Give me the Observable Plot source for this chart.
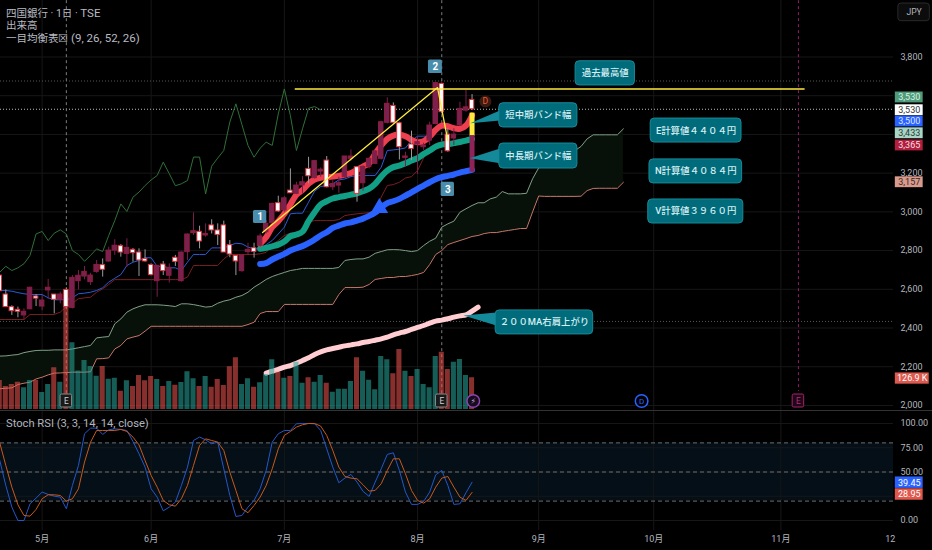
<!DOCTYPE html>
<html><head><meta charset="utf-8">
<script src="https://cdn.jsdelivr.net/npm/d3@7"></script>
<script src="https://cdn.jsdelivr.net/npm/@observablehq/plot@0.6"></script>
<style>
html,body{margin:0;padding:0;background:#000;overflow:hidden}
#wrap{position:relative;width:932px;height:550px;background:#000;font-family:Roboto,"Noto Sans CJK JP",sans-serif;color:#b2b5be}
#wrap svg{position:absolute;left:0}
.legend{position:absolute;left:6px;top:7px;font-size:10.5px;line-height:12px;color:#b8bbc2;z-index:5}
.legend span{font-size:11.5px}
.stoch{position:absolute;left:6px;top:418px;font-size:11.2px;line-height:12px;color:#b2b5be;z-index:5}
.sep{position:absolute;left:0;top:410px;width:932px;height:1px;background:#333;z-index:4}
</style></head><body>
<div id="wrap">
<div class="legend">四国銀行 · 1日 · <span>TSE</span><br>出来高<br>一目均衡表☒ <span>(9, 26, 52, 26)</span></div>
<div class="stoch">Stoch RSI (3, 3, 14, 14, close)</div>
<div class="sep"></div>
</div>
<script>
// Bars are addressed by trading-bar index; index 6 is the first bar of May.
const firstBar = -1;
const open = [2671,2573,2508,2494,2465,2497,2563,2511,2594,2573,2546,2597,2504,2642,2666,2637,2690,2725,2744,2800,2823,2783,2804,2790,2757,2726,2642,2728,2670,2763,2642,2792,2890,2897,2878,2930,2904,2930,2828,2773,2694,2792,2812,2825,2895,2941,3045,3007,3110,3093,3136,3222,3174,3208,3265,3127,3136,3179,3274,3231,3148,3231,3248,3274,3460,3547,3458,3279,3348,3348,3334,3368,3454,3661,3399,3379,3446,3523,3578];
const close = [2590,2508,2487,2484,2484,2608,2552,2542,2608,2546,2573,2508,2659,2670,2690,2671,2726,2701,2800,2825,2790,2814,2787,2749,2744,2673,2721,2694,2711,2742,2790,2883,2900,2847,2886,2904,2881,2790,2780,2744,2775,2804,2793,2873,2938,3041,3002,3070,3096,3136,3153,3184,3262,3218,3127,3144,3148,3286,3286,3093,3232,3274,3312,3463,3558,3460,3334,3286,3325,3360,3343,3446,3665,3515,3313,3399,3532,3540,3530];
const high = [2671,2597,2515,2508,2499,2611,2573,2568,2651,2573,2585,2608,2671,2697,2718,2683,2749,2757,2818,2856,2831,2861,2811,2809,2804,2731,2721,2744,2731,2775,2793,2886,2995,2926,2938,2959,2938,2952,2852,2773,2775,2838,2838,2886,2955,3045,3081,3079,3222,3153,3182,3282,3265,3227,3286,3162,3179,3286,3320,3231,3239,3279,3317,3468,3589,3563,3463,3308,3417,3386,3355,3463,3665,3665,3429,3429,3566,3627,3606];
const low = [2590,2508,2465,2453,2442,2494,2511,2490,2547,2473,2525,2499,2499,2597,2649,2620,2683,2663,2740,2775,2766,2714,2740,2666,2740,2670,2559,2671,2632,2718,2637,2749,2878,2809,2869,2886,2826,2790,2763,2671,2688,2775,2761,2818,2886,2938,2998,2998,3096,3089,3093,3145,3170,3179,3124,3110,3096,3175,3262,3050,3107,3222,3244,3268,3454,3454,3268,3231,3265,3193,3317,3343,3450,3506,3308,3343,3441,3515,3523];
const volumeK = [116,92,100,109,87,116,116,68,100,167,109,409,267,154,196,172,133,172,121,125,73,115,92,136,115,132,120,92,112,97,108,151,123,92,132,89,120,96,171,207,100,123,89,107,140,199,149,125,132,189,105,127,109,136,105,69,81,81,112,207,153,117,79,212,199,143,240,153,132,160,100,87,212,229,160,189,200,136,127];
const tenkan = [2594,2594,2590,2583,2577,2573,2573,2573,2556,2546,2546,2546,2556,2577,2580,2585,2594,2608,2637,2657,2676,2723,2740,2749,2763,2763,2718,2718,2711,2711,2697,2740,2780,2780,2780,2814,2814,2814,2826,2838,2835,2818,2809,2809,2831,2852,2886,2921,2990,2993,2993,3050,3107,3131,3136,3145,3165,3170,3182,3188,3188,3188,3188,3231,3317,3320,3324,3330,3368,3391,3391,3391,3437,3437,3437,3437,3437,3441,3500];
const kijun = [2444,2444,2444,2444,2444,2470,2470,2470,2470,2470,2482,2511,2528,2551,2556,2559,2585,2602,2625,2650,2650,2650,2650,2650,2650,2650,2650,2650,2650,2650,2650,2663,2723,2723,2723,2723,2723,2757,2780,2780,2780,2780,2780,2783,2791,2831,2852,2878,2890,2890,2890,2947,2955,2955,2955,2955,2960,2981,2986,2990,2993,2996,3010,3076,3136,3141,3153,3175,3182,3213,3279,3320,3351,3360,3365,3365,3365,3365,3365];
const lagging = [2688,2719,2697,2711,2732,2775,2886,2899,2852,2890,2907,2886,2800,2780,2745,2775,2809,2795,2878,2955,3041,3002,3076,3102,3136,3165,3188,3257,3197,3135,3145,3162,3283,3283,3093,3236,3278,3317,3464,3558,3450,3343,3282,3329,3360,3343,3506,3635,3497,3317,3429,3535,3544,3527];
const spanA = [2255,2256,2260,2263,2273,2279,2284,2285,2285,2287,2287,2287,2292,2298,2304,2310,2349,2353,2356,2422,2447,2482,2499,2511,2520,2520,2520,2518,2515,2511,2525,2525,2521,2515,2508,2511,2528,2539,2546,2559,2568,2585,2611,2630,2651,2666,2677,2687,2697,2702,2708,2708,2708,2708,2708,2708,2713,2749,2754,2757,2757,2766,2786,2795,2804,2805,2804,2800,2795,2800,2826,2848,2864,2921,2938,2952,2998,3016,3033,3047,3047,3067,3076,3105,3093,3093,3093,3096,3171,3227,3240,3240,3252,3269,3291,3317,3338,3377,3398,3398,3398,3398,3398,3429];
const spanB = [2086,2089,2091,2108,2115,2120,2137,2146,2158,2167,2168,2170,2172,2172,2172,2174,2241,2242,2246,2292,2310,2344,2353,2361,2384,2409,2409,2409,2409,2409,2409,2409,2409,2409,2409,2409,2409,2409,2409,2409,2409,2418,2430,2475,2485,2485,2485,2522,2522,2522,2522,2522,2522,2522,2522,2522,2573,2609,2609,2609,2611,2625,2651,2656,2661,2661,2666,2666,2671,2677,2687,2728,2780,2800,2831,2842,2852,2862,2873,2878,2888,2893,2893,2899,2904,2909,2914,2914,3000,3082,3080,3080,3080,3080,3080,3080,3081,3110,3121,3122,3122,3122,3122,3153];
const stochK = [61.9,36.1,13.8,0,0,17.2,23.1,29.3,26.9,25.1,24.1,12.1,36.1,56.8,89.4,95.2,95.2,88.7,93.5,94.5,93.9,92.8,81.5,68.8,55,32.7,24.1,10,13.8,18.9,36.1,55,82.5,86,83.2,79.1,80.8,53.3,25.8,4.2,5.2,13.8,20.7,32.7,51.6,80.8,89.4,92.8,92.8,99.7,100,100,99.7,92.8,73.9,55,38.9,43.7,47.5,39.6,30,24.8,39.6,53.3,68.1,69.8,51.6,29.3,16.6,16.6,19.6,29.3,47.1,51.6,36.1,16.6,17.2,28.6,39.45];
const stochD = [80.1,56.8,34.4,16.2,5.2,4.5,11.4,22.4,26.5,26.5,25.8,20,22.4,32.7,60.2,80.8,92.8,92.8,92.8,92.8,93.9,91.8,86,78,61.9,46.4,34.4,20.7,16.2,14.8,22.4,36.1,56.8,77.4,84.2,82.5,80.8,72.2,49.9,31,12.1,8,15.5,24.1,36.1,53.3,73.9,87.7,91.8,96.3,98.7,100,100,97.3,87.7,72.2,55,45.4,43.7,43,36.8,30.3,31,37.9,51.6,63.6,63.6,48.2,31,20.7,17.9,22.4,34.4,43.7,45.4,34.4,24.1,20.7,28.95];
// Hand-drawn bands on the chart, from bar 42 on
const shortBand = [2835,2869,2921,2952,2990,3038,3089,3113,3145,3167,3176,3179,3182,3186,3193,3201,3217,3234,3251,3300,3343,3377,3394,3399,3391,3372,3360,3365,3389,3424,3446,3442,3432,3429,3446,3498];
const midBand = [2809,2814,2822,2831,2847,2874,2883,2898,2952,2998,3038,3055,3069,3076,3082,3089,3096,3107,3120,3145,3182,3213,3231,3239,3251,3265,3277,3299,3317,3337,3348,3349,3355,3361,3368,3377];
const longBand = [2731,2735,2754,2769,2783,2800,2812,2823,2838,2857,2878,2895,2917,2929,2940,2946,2955,2965,2979,2996,3024,3045,3055,3067,3084,3101,3119,3136,3153,3169,3179,3186,3193,3203,3210,3217];
const ma200 = [2167,2177,2187,2198,2206,2218,2232,2246,2263,2277,2287,2294,2301,2308,2313,2318,2325,2330,2337,2344,2353,2365,2374,2382,2393,2403,2413,2425,2436,2441,2448,2456,2463,2468,2487,2508];
// Axes
const priceTicks = [3800,3200,3000,2800,2600,2400,2200,2000];
const priceGrid = [3800,3600,3400,3200,3000,2800,2600,2400,2200,2000];
const stochTicks = [100,75,50,0];
const stochGrid = [100,75,50,25,0];
const monthBars = [6,24,46,68,88,107,128];
const monthNames = ["5月","6月","7月","8月","9月","10月","11月"];
// Annotations, in bar index and price
const calloutText = ["過去最高値","短中期バンド幅","中長期バンド幅","E計算値４４０４円","N計算値４０８４円","V計算値３９６０円","２００MA右肩上がり"];
const calloutLeft = [94.1,81.5,81.5,106.5,106.3,106.1,80.9];
const calloutRight = [103.9,94.4,94.4,121.5,121.6,121.8,97];
const calloutHigh = [3778,3561,3353,3482,3271,3064,2491];
const calloutLow = [3653,3436,3224,3358,3147,2940,2367];
const pointerId = ["a","a","a","b","b","b","c","c","c"];
const pointerBar = [81.6,76.7,81.6,81.6,76.6,81.6,81,75.6,81];
const pointerPrice = [3524,3458,3472,3327,3277,3251,2480,2465,2413];
const waveText = ["1","2","3"];
const waveLeft = [40.9,69.8,71.9], waveRight = [43.1,72.1,74.1], waveHigh = [3007,3785,3153], waveLow = [2940,3715,3079];
const athLevel = 3635, athFrom = 47.8, athTo = 132;
const trendBar = [42.4,71.3,73], trendPrice = [2893,3642,3369];
const earningsBars = [10,72], futureEarningsBar = 130.9;
const dotted = [3676,2434], lastClose = 3530;
const badgeText = ["3,530","3,530","3,500","3,433","3,365","3,157"];
const badgePrice = [3591,3525,3467,3406,3343,3153];
const badgeFill = ["#4f9b79","#ffffff","#2962ff","#a8d5c5","#b21f3e","#d89a8c"];
const badgeInk = ["#d9efe5","#333333","#dfe6ff","#2b3a35","#f5dfe3","#3a2622"];
const stochBadgeText = ["39.45","28.95"], stochBadgeValue = [39,26.8], stochBadgeFill = ["#2962ff","#e0574c"];

const xScale = {domain:[-0.875,146.6], range:[0,893], axis:null};
const idx = (arr, start=firstBar) => arr.map((v,i)=>({n:start+i, v}));
const bars = open.map((o,i)=>({n:firstBar+i,o,c:close[i],h:high[i],l:low[i],vol:volumeK[i],up:close[i]>o}));
const cloud = spanA.map((a,i)=>({n:firstBar+i,a,b:spanB[i]}));
const callouts = calloutText.map((t,i)=>({t,x1:calloutLeft[i],x2:calloutRight[i],y1:calloutLow[i],y2:calloutHigh[i]}));
const pointers = pointerId.map((id,i)=>({id,x:pointerBar[i],y:pointerPrice[i]}));
const waves = waveText.map((t,i)=>({t,x1:waveLeft[i],x2:waveRight[i],y1:waveLow[i],y2:waveHigh[i]}));
const badges = badgeText.map((t,i)=>({t,y:badgePrice[i],fill:badgeFill[i],ink:badgeInk[i]}));
const thick = (arr,start,color,w=6)=>Plot.line(idx(arr,start),{x:"n",y:"v",stroke:color,strokeWidth:w,strokeLinecap:"round",strokeLinejoin:"round",curve:"catmull-rom"});
const baseStyle = {background:"transparent",color:"#b2b5be",fontSize:"9px",fontFamily:'Roboto,"Noto Sans CJK JP",sans-serif',overflow:"visible"};
const font = 'Roboto,"Noto Sans CJK JP",sans-serif';

const pricePlot = Plot.plot({
  width:932,height:410,marginLeft:0,marginRight:39,marginTop:0,marginBottom:0,style:baseStyle,
  x:xScale,y:{domain:[1974,4091.8],range:[410,0]},
  marks:[
    Plot.ruleY(priceGrid,{stroke:"#171717"}),
    Plot.ruleX(monthBars,{stroke:"#171717"}),
    Plot.axisY(priceTicks,{anchor:"right",tickSize:0,tickPadding:7,tickFormat:d3.format(","),label:null}),
    Plot.ruleY(dotted,{stroke:"#555",strokeDasharray:"1,2"}),
    Plot.ruleY([lastClose],{stroke:"#bbb",strokeDasharray:"1,2"}),
    Plot.areaY(cloud,{x:"n",y1:"a",y2:"b",fill:"#081109"}),
    Plot.ruleX(earningsBars,{y1:4091,y2:2030,stroke:"#7d7d7d",strokeDasharray:"3,3"}),
    Plot.ruleX([futureEarningsBar],{y1:4091,y2:2072,stroke:"#8e1f6a",strokeDasharray:"3,3"}),
    Plot.line(idx(spanA),{x:"n",y:"v",stroke:"#7f9e85",strokeWidth:1}),
    Plot.line(idx(spanB),{x:"n",y:"v",stroke:"#c8796a",strokeWidth:1}),
    Plot.line(idx(lagging),{x:"n",y:"v",stroke:"#2f7037",strokeWidth:1}),
    Plot.line(idx(kijun),{x:"n",y:"v",stroke:"#7a1f1f",strokeWidth:1}),
    Plot.line(idx(tenkan),{x:"n",y:"v",stroke:"#2a5bd7",strokeWidth:1}),
    thick(ma200,43,"#ffcdd2",5),
    thick(longBand,42,"#2962ff"),
    thick(midBand,42,"#11a086"),
    thick(shortBand,42,"#ee3f50"),
    Plot.ruleX(bars,{x:"n",y1:"l",y2:"h",stroke:d=>d.up?"#7a1f4a":"#9a9a9a",strokeWidth:1}),
    Plot.rect(bars,{x1:d=>d.n-0.37,x2:d=>d.n+0.37,y1:"o",y2:"c",fill:d=>d.up?"#7b2150":"#ffffff",stroke:d=>d.up?"#8b1e3f":"#d9333f",strokeWidth:1}),
    Plot.dot([{n:61.7,v:3020}],{x:"n",y:"v",symbol:"triangle",r:6.5,fill:"#2962ff"}),
    Plot.ruleX([{n:77,a:3510,b:3390}],{x:"n",y1:"a",y2:"b",stroke:"#ffeb3b",strokeWidth:5}),
    Plot.ruleX([{n:77,a:3394,b:3205}],{x:"n",y1:"a",y2:"b",stroke:"#8e2359",strokeWidth:5}),
    Plot.line(trendBar.map((x,i)=>({x,y:trendPrice[i]})),{x:"x",y:"y",stroke:"#ffeb3b",strokeWidth:1.3}),
    Plot.ruleY([athLevel],{x1:athFrom,x2:athTo,stroke:"#ffeb3b",strokeWidth:1.6}),
    Plot.line(pointers,{x:"x",y:"y",z:"id",fill:"#14899a",stroke:"none"}),
    Plot.rect(callouts,{x1:"x1",x2:"x2",y1:"y1",y2:"y2",fill:"#006b7a",stroke:"#178a9a",strokeWidth:1,rx:4}),
    Plot.text(callouts,{x:d=>(d.x1+d.x2)/2,y:d=>(d.y1+d.y2)/2,text:"t",fill:"#d6eef2",fontSize:9.4,fontWeight:500,fontFamily:font}),
    Plot.rect(waves,{x1:"x1",x2:"x2",y1:"y1",y2:"y2",fill:"#4a8cab",rx:1.5}),
    Plot.text(waves,{x:d=>(d.x1+d.x2)/2,y:d=>(d.y1+d.y2)/2,text:"t",fill:"#fff",fontSize:10,fontWeight:"bold",fontFamily:font}),
    Plot.dot([{n:79.2,v:3570}],{x:"n",y:"v",r:6,fill:"#3a1a12"}),
    Plot.text([{n:79.2,v:3570}],{x:"n",y:"v",text:()=>"D",fill:"#f05a28",fontSize:8.5,fontFamily:font}),
    Plot.rect(badges,{x1:146.9,x2:151.5,y1:d=>d.y-28,y2:d=>d.y+28,fill:"fill"}),
    Plot.text(badges,{x:149.2,y:"y",text:"t",fill:"ink",fontSize:9,fontFamily:font}),
    Plot.rect([{y:2139}],{x1:146.9,x2:152.5,y1:d=>d.y-29,y2:d=>d.y+29,fill:"#dc5a50"}),
    Plot.text([{y:2139}],{x:149.7,y:"y",text:()=>"126.9 K",fill:"#fff",fontSize:9,fontFamily:font}),
    Plot.rect([{y:4020}],{x1:147.4,x2:152.6,y1:3985,y2:4076,fill:"#0c0c0c",stroke:"#2a2a2a",rx:3}),
    Plot.text([{y:4030}],{x:150,y:"y",text:()=>"JPY",fill:"#b2b5be",fontSize:8.6,fontFamily:font})
  ]
});
const volumePlot = Plot.plot({
  width:932,height:410,marginLeft:0,marginRight:39,marginTop:0,marginBottom:0,style:baseStyle,
  x:xScale,y:{domain:[-4,1636],range:[410,0],axis:null},
  marks:[
    Plot.rectY(bars,{x1:d=>d.n-0.42,x2:d=>d.n+0.42,y1:0,y2:"vol",fill:d=>d.up?"#26a69a":"#ef5350",fillOpacity:0.56}),
    Plot.rect(earningsBars,{x1:d=>d-0.95,x2:d=>d+0.95,y1:8,y2:60,fill:"#1a1a1a",stroke:"#8a8a8a",rx:1.5}),
    Plot.text(earningsBars,{x:d=>d,y:34,text:()=>"E",fill:"#d0d0d0",fontSize:8.4,fontFamily:font}),
    Plot.dot([77.2],{x:d=>d,y:34,r:6.3,fill:"#170c20",stroke:"#8e44ad"}),
    Plot.text([77.2],{x:d=>d,y:34,text:()=>"⚡",fill:"#c9a6dd",fontSize:8,fontFamily:"DejaVu Sans"}),
    Plot.dot([105],{x:d=>d,y:34,r:6.3,fill:"#000",stroke:"#2962ff"}),
    Plot.text([105],{x:d=>d,y:34,text:()=>"D",fill:"#2962ff",fontSize:8,fontFamily:font}),
    Plot.rect([futureEarningsBar],{x1:d=>d-0.95,x2:d=>d+0.95,y1:8,y2:60,fill:"#200818",stroke:"#a3246a",rx:1.5}),
    Plot.text([futureEarningsBar],{x:d=>d,y:34,text:()=>"E",fill:"#b32a78",fontSize:8.4,fontFamily:font})
  ]
});
const stochPlot = Plot.plot({
  width:932,height:140,marginLeft:0,marginRight:39,marginTop:0,marginBottom:20,style:baseStyle,
  x:xScale,y:{domain:[-10.3,113.4],range:[120,0]},
  marks:[
    Plot.rect([0],{x1:-0.875,x2:146.6,y1:20,y2:80,fill:"#040f17"}),
    Plot.ruleY(stochGrid,{stroke:"#171717"}),
    Plot.ruleX(monthBars,{stroke:"#171717"}),
    Plot.axisY(stochTicks,{anchor:"right",tickSize:0,tickPadding:7,tickFormat:d3.format(".2f"),label:null}),
    Plot.axisX(monthBars,{anchor:"bottom",tickSize:0,tickPadding:5,tickFormat:(d,i)=>monthNames[i],label:null}),
    Plot.ruleY([80,50,20],{stroke:"#6e6e6e",strokeDasharray:"4,3"}),
    Plot.line(idx(stochK),{x:"n",y:"v",stroke:"#2457c8",strokeWidth:1}),
    Plot.line(idx(stochD),{x:"n",y:"v",stroke:"#c8591c",strokeWidth:1}),
    Plot.rect(stochBadgeValue.map((v,i)=>({v,f:stochBadgeFill[i]})),{x1:146.9,x2:151.5,y1:d=>d.v-5.9,y2:d=>d.v+5.9,fill:"f"}),
    Plot.text(stochBadgeValue.map((v,i)=>({v,t:stochBadgeText[i]})),{x:149.2,y:"v",text:"t",fill:"#fff",fontSize:9,fontFamily:font}),
    Plot.text([146.9],{x:d=>d,y:-19.6,text:()=>"12",textAnchor:"end",fill:"#b2b5be",fontSize:9,fontFamily:font})
  ]
});
const wrap = document.getElementById("wrap");
pricePlot.style.top = "0px"; volumePlot.style.top = "0px"; stochPlot.style.top = "410px";
wrap.append(pricePlot, volumePlot, stochPlot);
</script>
</body></html>
